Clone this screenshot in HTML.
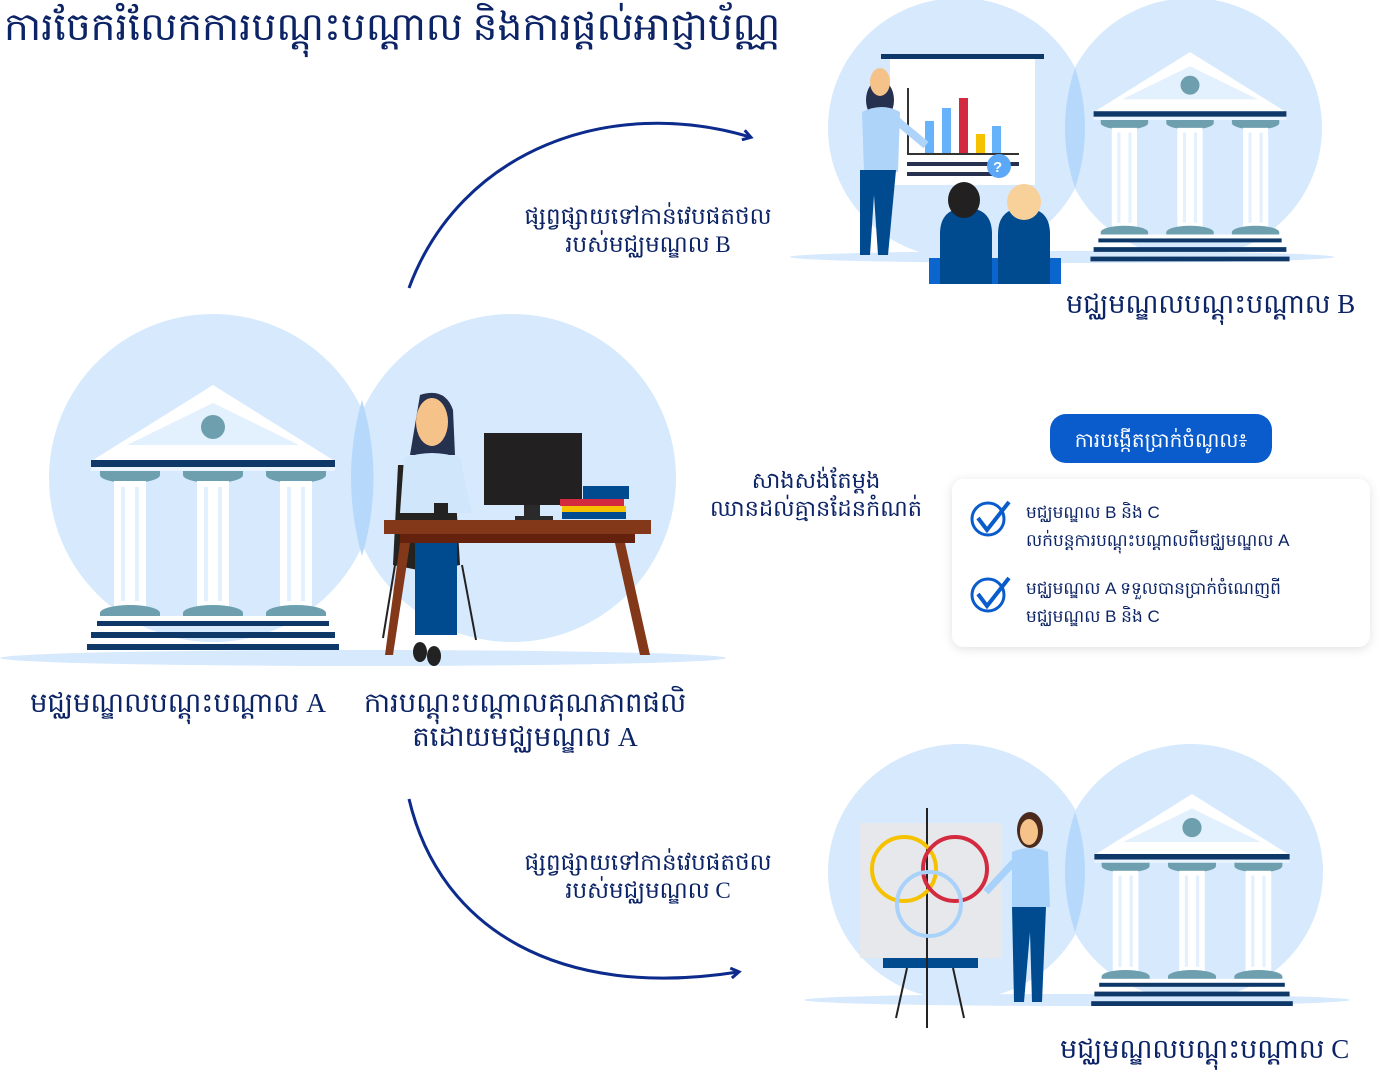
<!DOCTYPE html>
<html><head><meta charset="utf-8"><style>
html,body{margin:0;padding:0;background:#fff;}
svg{display:block;}
text{font-family:"Liberation Serif","DejaVu Serif",serif;fill:#0c2466;}
.s{font-family:"Liberation Sans","DejaVu Sans",sans-serif;}
</style></head><body>
<svg width="1388" height="1072" viewBox="0 0 1388 1072" xmlns="http://www.w3.org/2000/svg">
<defs>
<g id="bld">
 <polygon points="0,0 -120,75 120,75" fill="#fff"/>
 <polygon points="0,18 -86,60 86,60" fill="#e3f0fd"/>
 <circle cx="0" cy="42" r="12" fill="#6e9fae"/>
 <rect x="-122" y="75" width="244" height="7" fill="#0d3868"/>
 <rect x="-122" y="82" width="244" height="4" fill="#eaf4ff"/>
 <g id="col">
  <path d="M-113,86 h60 v4 a30,8 0 0 1 -60,0 z" fill="#6e9fae"/>
  <rect x="-99" y="96" width="32" height="126" fill="#fff"/>
  <rect x="-92" y="102" width="4" height="114" fill="#e3f0fd"/>
  <rect x="-78" y="102" width="4" height="114" fill="#e3f0fd"/>
  <path d="M-113,232 v-4 a30,8 0 0 1 60,0 v4 z" fill="#6e9fae"/>
 </g>
 <use href="#col" x="83"/>
 <use href="#col" x="166"/>
 <rect x="-120" y="231" width="240" height="5" fill="#fff"/>
 <rect x="-116" y="236" width="232" height="5" fill="#0d3868"/>
 <rect x="-122" y="247" width="244" height="6" fill="#0d3868"/>
 <rect x="-126" y="259" width="252" height="6" fill="#0d3868"/>
</g>
<marker id="ah" markerWidth="12" markerHeight="12" refX="8" refY="6" orient="auto" markerUnits="userSpaceOnUse">
 <path d="M1,1 L9,6 L1,11" fill="none" stroke="#0c2b8c" stroke-width="3"/>
</marker>
<filter id="sh" x="-10%" y="-10%" width="120%" height="130%"><feDropShadow dx="0" dy="2" stdDeviation="5" flood-color="#000" flood-opacity="0.12"/></filter>
</defs>

<text x="4" y="40" font-size="39">ការចែករំលែកការបណ្តុះបណ្តាល និងការផ្តល់អាជ្ញាប័ណ្ណ</text>

<ellipse cx="213" cy="478" rx="164" ry="164" fill="#d6e9fd"/>
<ellipse cx="512" cy="478" rx="164" ry="164" fill="#d6e9fd"/>
<path d="M362,400 Q385,478 362,556 Q340,478 362,400Z" fill="#b5d8fb"/>
<ellipse cx="363" cy="658" rx="363" ry="8" fill="#d6e9fd"/>
<use href="#bld" transform="translate(213,385)"/>

<path d="M420,395 q25,-8 33,15 l2,45 h-45 z" fill="#26304f"/>
<ellipse cx="432" cy="422" rx="16" ry="24" fill="#f5c28a"/>
<path d="M398,465 l-5,100 l25,5 l2,-30 l10,30 l30,-5 l-6,-100 z" fill="#25231f"/>
<path d="M404,458 q28,-10 56,0 l12,55 l-72,0 z" fill="#cfe6fb"/>
<rect x="415" y="525" width="42" height="110" fill="#004a8f"/>
<ellipse cx="420" cy="652" rx="7" ry="10" fill="#222"/>
<ellipse cx="434" cy="656" rx="7" ry="10" fill="#222"/>
<rect x="484" y="433" width="98" height="72" fill="#232021"/>
<rect x="524" y="505" width="16" height="15" fill="#2a2a2a"/>
<rect x="515" y="516" width="38" height="4" fill="#2a2a2a"/>
<rect x="583" y="486" width="46" height="13" fill="#004a8f"/>
<rect x="560" y="499" width="64" height="7" fill="#d42a3f"/>
<rect x="562" y="506" width="64" height="6" fill="#f6c200"/>
<rect x="562" y="512" width="64" height="7" fill="#004a8f"/>
<rect x="434" y="503" width="14" height="17" fill="#222"/>
<rect x="384" y="520" width="267" height="14" fill="#84381a"/>
<rect x="400" y="534" width="235" height="9" fill="#63210e"/>
<polygon points="400,543 410,543 393,655 385,655" fill="#84381a"/>
<polygon points="615,543 625,543 650,655 640,655" fill="#84381a"/>
<line x1="395" y1="565" x2="383" y2="638" stroke="#222" stroke-width="2"/>
<line x1="462" y1="565" x2="476" y2="640" stroke="#222" stroke-width="2"/>

<ellipse cx="959" cy="128" rx="131" ry="130" fill="#d6e9fd"/>
<ellipse cx="1191" cy="128" rx="131" ry="130" fill="#d6e9fd"/>
<path d="M1075,68 Q1095,128 1075,188 Q1055,128 1075,68Z" fill="#b5d8fb"/>
<ellipse cx="1062" cy="257" rx="272" ry="6" fill="#d6e9fd"/>
<use href="#bld" transform="translate(1190,52) scale(0.79)"/>
<rect x="881" y="54" width="163" height="5" fill="#0d3868"/>
<rect x="890" y="59" width="145" height="126" fill="#fff"/>
<rect x="907" y="88" width="2" height="65" fill="#333"/>
<rect x="925" y="121" width="9" height="33" fill="#66b3fb"/>
<rect x="942" y="108" width="9" height="46" fill="#66b3fb"/>
<rect x="959" y="98" width="9" height="56" fill="#d42a3f"/>
<rect x="976" y="134" width="9" height="20" fill="#f6c200"/>
<rect x="992" y="126" width="9" height="28" fill="#66b3fb"/>
<rect x="907" y="153" width="112" height="2" fill="#333"/>
<rect x="907" y="162" width="112" height="4" fill="#26304f"/>
<rect x="907" y="172" width="85" height="4" fill="#26304f"/>
<circle cx="963" cy="198" r="4" fill="none" stroke="#222" stroke-width="2"/>
<circle cx="999" cy="166" r="12" fill="#5aa8f7"/>
<text x="993" y="172" font-size="15" class="s" style="fill:#fff;font-weight:bold">?</text>
<ellipse cx="880" cy="100" rx="14" ry="20" fill="#26304f"/>
<ellipse cx="880" cy="82" rx="10" ry="14" fill="#f5c28a"/>
<path d="M862,112 q20,-10 38,0 l-2,60 h-34 z" fill="#aed4fa"/>
<path d="M860,170 h36 l-8,85 h-10 l-4,-60 l-4,60 h-10 z" fill="#004a8f"/>
<path d="M896,120 l30,25" stroke="#aed4fa" stroke-width="8"/>
<rect x="929" y="258" width="132" height="26" fill="#0a66cc"/>
<path d="M940,284 v-50 q0,-26 26,-26 q26,0 26,26 v50 z" fill="#004a8f"/>
<path d="M998,284 v-50 q0,-26 26,-26 q26,0 26,26 v50 z" fill="#004a8f"/>
<ellipse cx="964" cy="200" rx="16" ry="18" fill="#232021"/>
<ellipse cx="1024" cy="202" rx="17" ry="18" fill="#f8d09a"/>
<text x="1066" y="313" font-size="27">មជ្ឈមណ្ឌលបណ្តុះបណ្តាល B</text>

<ellipse cx="960" cy="872" rx="132" ry="128" fill="#d6e9fd"/>
<ellipse cx="1191" cy="872" rx="132" ry="128" fill="#d6e9fd"/>
<path d="M1075,812 Q1095,872 1075,932 Q1055,872 1075,812Z" fill="#b5d8fb"/>
<ellipse cx="1077" cy="1000" rx="273" ry="6" fill="#d6e9fd"/>
<use href="#bld" transform="translate(1192,794) scale(0.8)"/>
<rect x="860" y="823" width="142" height="135" fill="#e6e8eb"/>
<rect x="883" y="958" width="95" height="10" fill="#004a8f"/>
<line x1="927" y1="808" x2="927" y2="1028" stroke="#222" stroke-width="2"/>
<line x1="907" y1="968" x2="896" y2="1018" stroke="#222" stroke-width="2"/>
<line x1="953" y1="968" x2="964" y2="1018" stroke="#222" stroke-width="2"/>
<circle cx="904" cy="869" r="32" fill="none" stroke="#f6c200" stroke-width="4"/>
<circle cx="955" cy="869" r="32" fill="none" stroke="#d42a3f" stroke-width="4"/>
<circle cx="929" cy="904" r="32" fill="none" stroke="#a9d2fb" stroke-width="4"/>
<ellipse cx="1030" cy="830" rx="13" ry="18" fill="#4a2a1c"/>
<ellipse cx="1029" cy="832" rx="9" ry="13" fill="#f5c28a"/>
<path d="M1012,852 q18,-8 36,0 l2,55 h-38 z" fill="#a9d2fb"/>
<path d="M1012,907 h34 l-4,95 h-10 l-2,-70 l-6,70 h-10 z" fill="#004a8f"/>
<path d="M1014,862 l-28,30" stroke="#a9d2fb" stroke-width="7"/>
<text x="1060" y="1058" font-size="27">មជ្ឈមណ្ឌលបណ្តុះបណ្តាល C</text>

<path d="M409,288 C460,150 610,95 750,137" fill="none" stroke="#0c2b8c" stroke-width="3" marker-end="url(#ah)"/>
<path d="M409,799 C440,930 560,1000 738,972" fill="none" stroke="#0c2b8c" stroke-width="3" marker-end="url(#ah)"/>
<text x="648" y="224" font-size="23" text-anchor="middle">ផ្សព្វផ្សាយទៅកាន់វេបផតថល</text>
<text x="648" y="252" font-size="23" text-anchor="middle">របស់មជ្ឈមណ្ឌល B</text>
<text x="648" y="870" font-size="23" text-anchor="middle">ផ្សព្វផ្សាយទៅកាន់វេបផតថល</text>
<text x="648" y="898" font-size="23" text-anchor="middle">របស់មជ្ឈមណ្ឌល C</text>
<text x="816" y="488" font-size="22.5" text-anchor="middle">សាងសង់តែម្តង</text>
<text x="816" y="516" font-size="22.5" text-anchor="middle">ឈានដល់គ្មានដែនកំណត់</text>

<text x="178" y="712" font-size="27.5" text-anchor="middle">មជ្ឈមណ្ឌលបណ្តុះបណ្តាល A</text>
<text x="525" y="712" font-size="27.5" text-anchor="middle">ការបណ្តុះបណ្តាលគុណភាពផលិ</text>
<text x="525" y="746" font-size="27.5" text-anchor="middle">តដោយមជ្ឈមណ្ឌល A</text>

<rect x="952" y="479" width="418" height="168" rx="12" fill="#fff" filter="url(#sh)"/>
<rect x="1050" y="414" width="222" height="49" rx="16" fill="#0a5ccc"/>
<text x="1161" y="447" font-size="20" text-anchor="middle" class="s" style="fill:#fff">ការបង្កើតប្រាក់ចំណូល៖</text>
<circle cx="988" cy="519" r="16" fill="none" stroke="#0a5ccc" stroke-width="3"/>
<path d="M978,518 l9,12 l22,-28" fill="none" stroke="#0a5ccc" stroke-width="4"/>
<circle cx="988" cy="595" r="16" fill="none" stroke="#0a5ccc" stroke-width="3"/>
<path d="M978,594 l9,12 l22,-28" fill="none" stroke="#0a5ccc" stroke-width="4"/>
<text x="1026" y="518" font-size="17" class="s">មជ្ឈមណ្ឌល B និង C</text>
<text x="1026" y="546" font-size="17" class="s">លក់បន្តការបណ្តុះបណ្តាលពីមជ្ឈមណ្ឌល A</text>
<text x="1026" y="594" font-size="17" class="s">មជ្ឈមណ្ឌល A ទទួលបានប្រាក់ចំណេញពី</text>
<text x="1026" y="622" font-size="17" class="s">មជ្ឈមណ្ឌល B និង C</text>
</svg>
</body></html>
